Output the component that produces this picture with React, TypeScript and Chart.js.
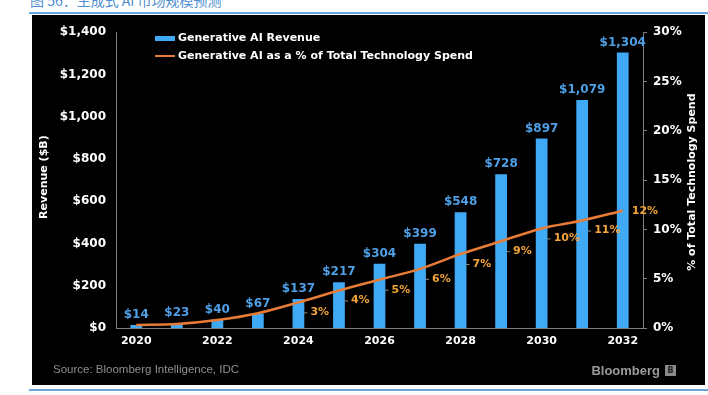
import React, { useEffect, useRef } from 'react';
import { Chart, registerables } from 'chart.js';

Chart.register(...registerables);

const years = ['2020', '2021', '2022', '2023', '2024', '2025', '2026', '2027', '2028', '2029', '2030', '2031', '2032'];
const revenue = [14, 23, 40, 67, 137, 217, 304, 399, 548, 728, 897, 1079, 1304];
const sharePct = [0.3, 0.4, 0.8, 1.5, 2.6, 3.8, 4.9, 6.0, 7.5, 8.8, 10.1, 10.9, 11.9];
const shareLabels = ['', '', '', '', '3%', '4%', '5%', '6%', '7%', '9%', '10%', '11%', '12%'];
const revenueTicks = [0, 200, 400, 600, 800, 1000, 1200, 1400];
const shareTicks = [0, 5, 10, 15, 20, 25, 30];

const seriesNames = ['Generative AI Revenue', 'Generative AI as a % of Total Technology Spend'];
const axisTitles = ['Revenue ($B)', '% of Total Technology Spend'];
const sourceText = 'Source: Bloomberg Intelligence, IDC';
const titleText = '图 56：生成式 AI 市场规模预测';

const FONT = '"DejaVu Sans", Verdana, sans-serif';
const BAR = '#3FA9F5';
const BAR_LABEL = '#4E9FE6';
const LINE = '#E87B35';
const PCT = '#F2A33A';
const AXIS = '#7f7f7f';

const fmtMoney = (v: number) => '$' + v.toLocaleString('en-US');

const labelPlugin = {
  id: 'labels',
  afterDatasetsDraw(chart: any) {
    const ctx = chart.ctx;
    ctx.save();
    const barMeta = chart.getDatasetMeta(0);
    ctx.font = `bold 12px ${FONT}`;
    ctx.fillStyle = BAR_LABEL;
    ctx.textAlign = 'center';
    ctx.textBaseline = 'middle';
    barMeta.data.forEach((el: any, i: number) => {
      ctx.fillText(fmtMoney(revenue[i]), el.x, el.y - 10);
    });
    const lineMeta = chart.getDatasetMeta(1);
    ctx.font = `bold 11px ${FONT}`;
    ctx.textAlign = 'left';
    lineMeta.data.forEach((el: any, i: number) => {
      const t = shareLabels[i];
      if (!t) return;
      const last = i === lineMeta.data.length - 1;
      const dy = last ? 0 : 10;
      const dx = last ? 9 : 12;
      if (!last) {
        ctx.strokeStyle = '#8a8a8a';
        ctx.lineWidth = 1;
        ctx.beginPath();
        ctx.moveTo(el.x + 5, el.y + dy + 0.5);
        ctx.lineTo(el.x + 9, el.y + dy + 0.5);
        ctx.stroke();
      }
      ctx.fillStyle = PCT;
      ctx.fillText(t, el.x + dx, el.y + dy);
    });
    ctx.restore();
  },
  afterDraw(chart: any) {
    const ctx = chart.ctx;
    const area = chart.chartArea;
    ctx.save();
    // legend
    ctx.fillStyle = BAR;
    ctx.fillRect(123, 21, 20, 5);
    ctx.strokeStyle = LINE;
    ctx.lineWidth = 2;
    ctx.beginPath();
    ctx.moveTo(123, 41);
    ctx.lineTo(143, 41);
    ctx.stroke();
    ctx.fillStyle = '#ffffff';
    ctx.font = `bold 11px ${FONT}`;
    ctx.textAlign = 'left';
    ctx.textBaseline = 'middle';
    ctx.fillText(seriesNames[0], 146, 23);
    ctx.fillText(seriesNames[1], 146, 41);
    // axis titles
    const cy = (area.top + area.bottom) / 2;
    ctx.textAlign = 'center';
    ctx.save();
    ctx.translate(12, cy - 3);
    ctx.rotate(-Math.PI / 2);
    ctx.fillText(axisTitles[0], 0, 0);
    ctx.restore();
    ctx.save();
    ctx.translate(660, cy + 2);
    ctx.rotate(-Math.PI / 2);
    ctx.fillText(axisTitles[1], 0, 0);
    ctx.restore();
    // source
    ctx.fillStyle = '#8f8f8f';
    ctx.font = `11.5px "Liberation Sans", Arial, sans-serif`;
    ctx.textAlign = 'left';
    ctx.fillText(sourceText, 21, 355);
    ctx.font = `bold 13px "Liberation Sans", Arial, sans-serif`;
    ctx.textAlign = 'right';
    ctx.fillStyle = '#9a9a9a';
    ctx.fillText('Bloomberg', 628, 356);
    ctx.fillStyle = '#8a8a8a';
    ctx.fillRect(633, 350, 11, 11);
    ctx.fillStyle = '#222';
    ctx.font = `bold 8px ${FONT}`;
    ctx.textAlign = 'center';
    ctx.fillText('B', 638.5, 356);
    ctx.restore();
  },
};

export default function App() {
  const ref = useRef<HTMLCanvasElement>(null);
  useEffect(() => {
    const chart = new Chart(ref.current as HTMLCanvasElement, {
      type: 'bar',
      data: {
        labels: years,
        datasets: [
          {
            type: 'bar',
            label: seriesNames[0],
            data: revenue,
            backgroundColor: BAR,
            borderWidth: 0,
            barPercentage: 0.29,
            categoryPercentage: 1,
            yAxisID: 'y',
            order: 1,
          },
          {
            type: 'line',
            label: seriesNames[1],
            data: sharePct,
            borderColor: LINE,
            borderWidth: 2.5,
            pointRadius: 0,
            tension: 0.3,
            yAxisID: 'y1',
            order: 0,
          } as any,
        ],
      },
      options: {
        responsive: false,
        animation: false,
        devicePixelRatio: 1,
        layout: { padding: { top: 14, left: 0, right: 0, bottom: 0 } },
        plugins: { legend: { display: false }, tooltip: { enabled: false }, title: { display: false } },
        scales: {
          x: {
            type: 'category',
            offset: true,
            grid: { display: false, drawTicks: false },
            border: { display: true, color: AXIS, width: 1 },
            ticks: {
              autoSkip: false,
              maxRotation: 0,
              color: '#ffffff',
              font: { family: FONT, size: 11, weight: 'bold' },
              padding: 7,
              callback: (_v: any, i: number) => (i % 2 === 0 ? years[i] : ''),
            },
            afterFit: (s: any) => { s.height = 57; },
          },
          y: {
            position: 'left',
            min: 0,
            max: 1400,
            grid: { display: false, drawTicks: false },
            border: { display: true, color: AXIS, width: 1 },
            afterBuildTicks: (s: any) => { s.ticks = revenueTicks.map((v) => ({ value: v })); },
            ticks: {
              color: '#ffffff',
              font: { family: FONT, size: 12, weight: 'bold' },
              padding: 10,
              callback: (v: any) => fmtMoney(Number(v)),
            },
            afterFit: (s: any) => { s.width = 84; },
          },
          y1: {
            position: 'right',
            min: 0,
            max: 30,
            grid: { drawOnChartArea: false, drawTicks: true, tickLength: 4, color: AXIS },
            border: { display: true, color: AXIS, width: 1 },
            afterBuildTicks: (s: any) => { s.ticks = shareTicks.map((v) => ({ value: v })); },
            ticks: {
              color: '#ffffff',
              font: { family: FONT, size: 12, weight: 'bold' },
              padding: 6,
              callback: (v: any) => v + '%',
            },
            afterFit: (s: any) => { s.width = 62; },
          },
        },
      } as any,
      plugins: [labelPlugin],
    });
    return () => chart.destroy();
  }, []);

  return (
    <div>
      <div
        style={{
          position: 'absolute',
          left: 30,
          top: -7,
          font: '14px "Noto Sans CJK SC", sans-serif',
          lineHeight: '14px',
          color: '#4f8fd1',
          whiteSpace: 'nowrap',
        }}
      >
        {titleText}
      </div>
      <div style={{ position: 'absolute', left: 29, top: 12, width: 679, height: 2, background: '#6aa6de' }} />
      <div style={{ position: 'absolute', left: 32, top: 15, width: 673, height: 370, background: '#000' }}>
        <canvas ref={ref} width={673} height={370} style={{ display: 'block' }} />
      </div>
      <div style={{ position: 'absolute', left: 29, top: 389, width: 679, height: 2, background: '#6aa6de' }} />
    </div>
  );
}
